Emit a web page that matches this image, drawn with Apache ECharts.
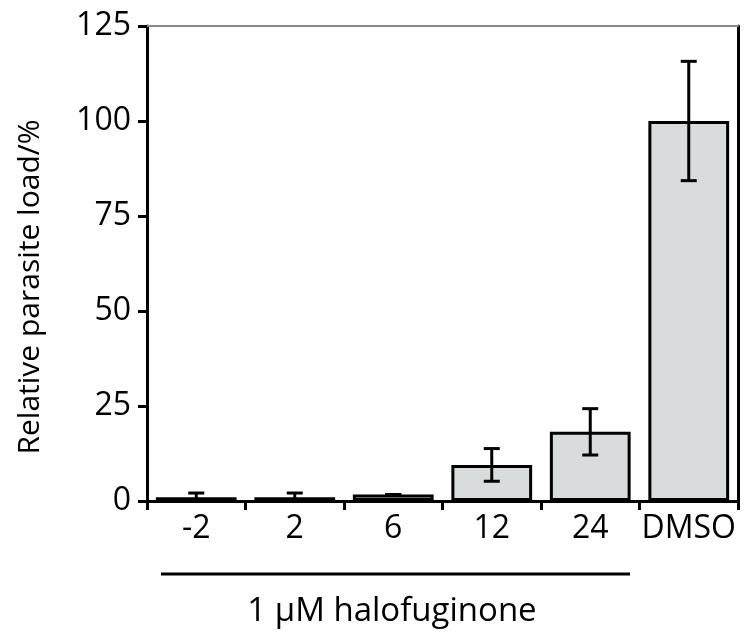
<!DOCTYPE html>
<html>
<head>
<meta charset="UTF-8">
<title>Relative parasite load</title>
<script src="https://cdn.jsdelivr.net/npm/echarts@6/dist/echarts.min.js"></script>
<style>
  html, body { margin: 0; padding: 0; background: #fff; }
</style>
</head>
<body>
	<div id="main" style="width: 752px;height:635px;"></div>
	<script type="text/javascript">
	var categories = ['-2', '2', '6', '12', '24', 'DMSO'];
	var loadValues = [1.0, 1.0, 1.7, 9.5, 18.2, 100];
	var loadErrors = [1.1, 1.1, 0, 4.3, 6.1, 15.7];
	var yTicks = [0, 25, 50, 75, 100, 125];

	var errorData = [];
	for (var i = 0; i < categories.length; i++) {
		errorData.push([i, loadValues[i] - loadErrors[i], loadValues[i] + loadErrors[i]]);
	}

	var font = 'Open Sans';
	var chartDom = document.getElementById('main');
	var myChart = echarts.init(chartDom);

	myChart.setOption({
		animation: false,
		grid: { left: 147, right: 14, top: 26, bottom: 134 },
		xAxis: [{
			type: 'category',
			data: categories,
			axisLine: { lineStyle: { color: '#000', width: 3 } },
			axisTick: { show: true, length: 9, lineStyle: { color: '#000', width: 3 } },
			axisLabel: { color: '#000', fontSize: 32, fontFamily: font, margin: 12, interval: 0 }
		}, {
			type: 'category',
			position: 'top',
			data: categories,
			axisLine: { show: true, onZero: false, lineStyle: { color: '#888', width: 2 } },
			axisTick: { show: false },
			axisLabel: { show: false }
		}],
		yAxis: [{
			type: 'value',
			min: yTicks[0],
			max: yTicks[yTicks.length - 1],
			interval: 25,
			axisLine: { show: true, lineStyle: { color: '#000', width: 3 } },
			axisTick: { show: true, length: 9, lineStyle: { color: '#000', width: 3 } },
			axisLabel: { color: '#000', fontSize: 32, fontFamily: font, margin: 16 },
			splitLine: { show: false }
		}, {
			type: 'value',
			position: 'right',
			min: 0,
			max: 125,
			interval: 25,
			axisLine: { show: true, onZero: false, lineStyle: { color: '#000', width: 3 } },
			axisTick: { show: false },
			axisLabel: { show: false },
			splitLine: { show: false }
		}],
		series: [{
			type: 'bar',
			data: loadValues,
			barWidth: '82%',
			itemStyle: { color: '#d9dcdd', borderColor: '#000', borderWidth: 3 }
		}, {
			type: 'custom',
			data: errorData,
			z: 10,
			renderItem: function (params, api) {
				var lo = api.coord([api.value(0), api.value(1)]);
				var hi = api.coord([api.value(0), api.value(2)]);
				var half = 8;
				var style = { stroke: '#000', lineWidth: 3 };
				return {
					type: 'group',
					children: [
						{ type: 'line', shape: { x1: lo[0], y1: lo[1], x2: hi[0], y2: hi[1] }, style: style },
						{ type: 'line', shape: { x1: lo[0] - half, y1: lo[1], x2: lo[0] + half, y2: lo[1] }, style: style },
						{ type: 'line', shape: { x1: hi[0] - half, y1: hi[1], x2: hi[0] + half, y2: hi[1] }, style: style }
					]
				};
			}
		}],
		graphic: [{
			type: 'text',
			x: 30,
			y: 287,
			rotation: Math.PI / 2,
			style: {
				text: 'Relative parasite load/%',
				fill: '#000',
				fontSize: 30,
				fontFamily: font,
				align: 'center',
				verticalAlign: 'middle'
			}
		}, {
			type: 'line',
			shape: { x1: 161, y1: 574, x2: 630, y2: 574 },
			style: { stroke: '#000', lineWidth: 3 }
		}, {
			type: 'text',
			x: 392,
			y: 612,
			style: {
				text: '1 \u03bcM halofuginone',
				fill: '#000',
				fontSize: 33,
				fontFamily: font,
				align: 'center',
				verticalAlign: 'middle'
			}
		}]
	});
	</script>
</body>
</html>
